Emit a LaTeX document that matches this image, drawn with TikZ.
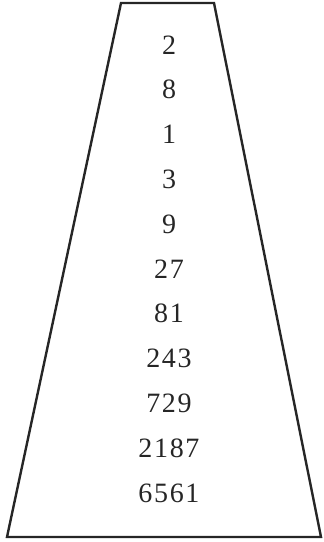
\documentclass[tikz,border=0pt]{standalone}
\usepackage{fontspec}
\setmainfont{Liberation Serif}[LetterSpace=6]
\begin{document}
\begin{tikzpicture}[x=1pt,y=-1pt,
  num/.style={font=\fontsize{28}{30}\selectfont, text=black!85, inner sep=0pt, anchor=center},
  edge/.style={line width=2.4pt, line join=miter, draw=black!85}]
\useasboundingbox (0,0) rectangle (324,542);
\coordinate (tl) at (121,3);
\coordinate (tr) at (214,3);
\coordinate (br) at (321,537);
\coordinate (bl) at (7,537);
\draw[edge] (tl) -- (tr) -- (br) -- (bl) -- cycle;
\foreach \v [count=\i from 0] in {2,8,1,3,9,27,81,243,729,2187,6561} {
  \node[num] (n\i) at (169,{45+44.8*\i}) {\v};
}
\end{tikzpicture}
\end{document}
